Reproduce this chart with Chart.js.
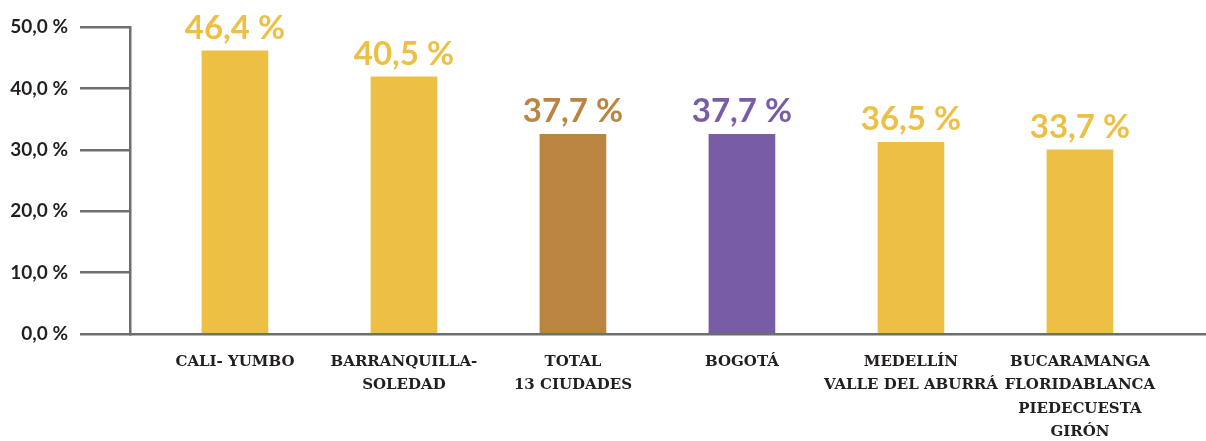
<!DOCTYPE html>
<html>
<head>
<meta charset="utf-8">
<script src="https://cdn.jsdelivr.net/npm/chart.js@4.4.1/dist/chart.umd.min.js"></script>
<style>
  html, body { margin: 0; padding: 0; background: #ffffff; }
  #wrap { width: 1206px; height: 441px; position: relative; }
</style>
</head>
<body>
<div id="wrap"><canvas id="c" width="1206" height="441"></canvas></div>
<script>
// Categories (multi-line labels)
const categories = [
  ["CALI- YUMBO"],
  ["BARRANQUILLA-", "SOLEDAD"],
  ["TOTAL", "13 CIUDADES"],
  ["BOGOTÁ"],
  ["MEDELLÍN", "VALLE DEL ABURRÁ"],
  ["BUCARAMANGA", "FLORIDABLANCA", "PIEDECUESTA", "GIRÓN"]
];
// Bar heights as drawn in the picture (percent)
const barValues = [46.1, 41.9, 32.5, 32.5, 31.2, 30.0];
// Value labels printed above the bars
const valueLabels = ["46,4 %", "40,5 %", "37,7 %", "37,7 %", "36,5 %", "33,7 %"];
// Bar colours
const barColors = ["#EDC045", "#EDC045", "#B98540", "#785CA6", "#EDC045", "#EDC045"];
// Y axis ticks
const yTicks = [0, 10, 20, 30, 40, 50];

const AXIS = "#6D6E70";
const TEXT = "#231F20";

const valueLabelPlugin = {
  id: "valueLabels",
  afterDatasetsDraw(chart) {
    const ctx = chart.ctx;
    const meta = chart.getDatasetMeta(0);
    ctx.save();
    ctx.font = "bold 33px Lato, 'Noto Sans', sans-serif";
    ctx.textAlign = "center";
    ctx.textBaseline = "alphabetic";
    meta.data.forEach((bar, i) => {
      ctx.fillStyle = barColors[i];
      ctx.fillText(valueLabels[i], bar.x, bar.y - 12);
    });
    ctx.restore();
  }
};

new Chart(document.getElementById("c"), {
  type: "bar",
  data: {
    datasets: [{
      data: barValues.map((v, i) => ({ x: i, y: v })),
      backgroundColor: barColors,
      borderWidth: 0,
      barThickness: 66
    }]
  },
  options: {
    responsive: false,
    animation: false,
    devicePixelRatio: 1,
    layout: { padding: { top: 27, right: 0, left: 0, bottom: 0 } },
    plugins: { legend: { display: false }, tooltip: { enabled: false } },
    scales: {
      x: {
        type: "linear",
        offset: false,
        min: -0.621,
        max: 5.746,
        afterFit(scale) { scale.height = 107; },
        grid: { display: true, drawOnChartArea: false, drawTicks: false },
        border: { display: true, color: AXIS, width: 2.5 },
        ticks: {
          stepSize: 1,
          includeBounds: false,
          autoSkip: false,
          maxRotation: 0,
          padding: 16,
          color: TEXT,
          font: { family: "'DejaVu Serif', serif", weight: "bold", size: 15, lineHeight: "23.5px" },
          callback(value) {
            return Number.isInteger(value) && categories[value] ? categories[value] : "";
          }
        }
      },
      y: {
        min: 0,
        max: 50,
        afterFit(scale) { scale.width = 130; },
        afterBuildTicks(scale) { scale.ticks = yTicks.map(v => ({ value: v })); },
        grid: { display: true, drawOnChartArea: false, drawTicks: true, tickLength: 50, color: AXIS, lineWidth: 2.5 },
        border: { display: true, color: AXIS, width: 2.5 },
        ticks: {
          padding: 12,
          color: TEXT,
          font: { family: "Lato, 'Noto Sans', sans-serif", weight: "bold", size: 19 },
          callback(value) { return value.toFixed(1).replace(".", ",") + " %"; }
        }
      }
    }
  },
  plugins: [valueLabelPlugin]
});
</script>
</body>
</html>
